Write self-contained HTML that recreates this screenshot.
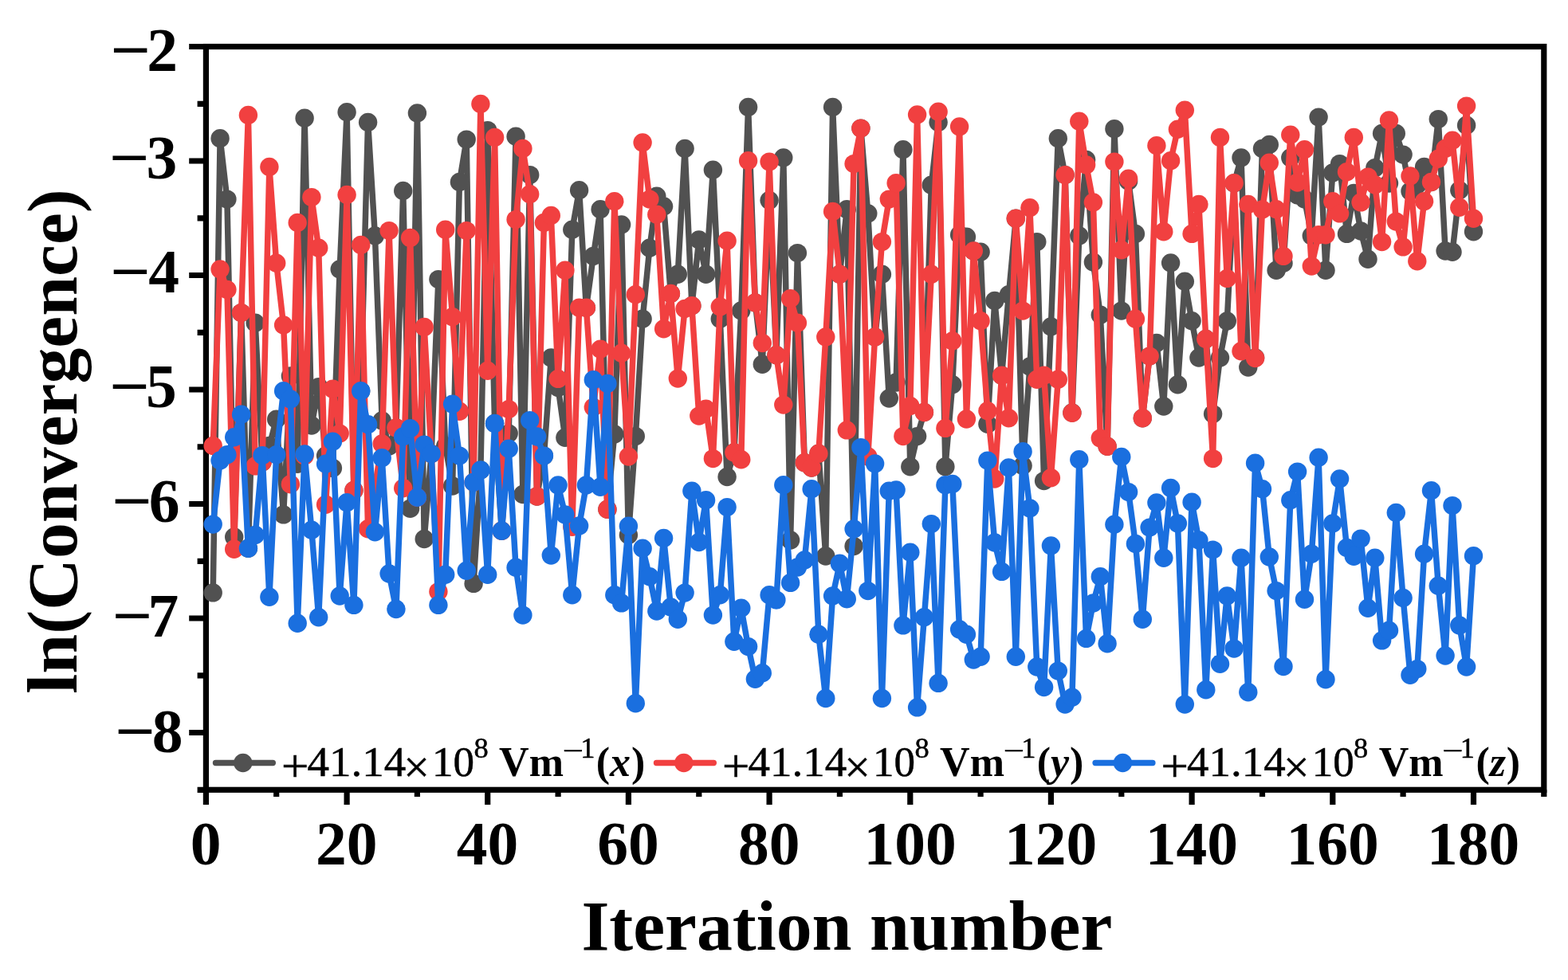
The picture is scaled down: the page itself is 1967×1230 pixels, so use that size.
<!DOCTYPE html>
<html><head><meta charset="utf-8"><title>Convergence</title>
<style>
html,body{margin:0;padding:0;background:#fff;}
body{width:1967px;height:1230px;overflow:hidden;}
svg{display:block;}
text{font-family:"Liberation Serif","DejaVu Serif",serif;fill:#000;}
.tk{font-weight:bold;font-size:77.5px;}
.ti{font-weight:bold;font-size:89.8px;}
.lg{font-size:52px;}
.b{font-weight:bold;}
.i{font-style:italic;}
.sup{font-size:35px;}
</style></head><body>
<svg width="1967" height="1230" viewBox="0 0 1967 1230">
<rect width="1967" height="1230" fill="#fff"/>

<rect x="258.4" y="58.5" width="1678.4" height="932.8" fill="none" stroke="#000" stroke-width="7.2"/>
<path d="M258.4 991.3 V1010.0 M346.7 991.3 V999.9 M435.1 991.3 V1010.0 M523.4 991.3 V999.9 M611.7 991.3 V1010.0 M700.1 991.3 V999.9 M788.4 991.3 V1010.0 M876.8 991.3 V999.9 M965.1 991.3 V1010.0 M1053.4 991.3 V999.9 M1141.8 991.3 V1010.0 M1230.1 991.3 V999.9 M1318.4 991.3 V1010.0 M1406.8 991.3 V999.9 M1495.1 991.3 V1010.0 M1583.5 991.3 V999.9 M1671.8 991.3 V1010.0 M1760.1 991.3 V999.9 M1848.5 991.3 V1010.0 M1936.8 991.3 V999.9 M258.4 58.5 H237.2 M258.4 130.3 H247.6 M258.4 202.0 H237.2 M258.4 273.8 H247.6 M258.4 345.5 H237.2 M258.4 417.3 H247.6 M258.4 489.0 H237.2 M258.4 560.8 H247.6 M258.4 632.5 H237.2 M258.4 704.3 H247.6 M258.4 776.0 H237.2 M258.4 847.8 H247.6 M258.4 919.5 H237.2 M258.4 991.3 H247.6" stroke="#000" stroke-width="7.2" fill="none"/>
<g stroke="#515151" fill="#515151">
<polyline fill="none" stroke-width="7.5" stroke-linejoin="round" stroke-linecap="round" points="267.2,743.9 276.1,173.8 284.9,250.1 293.7,673.9 302.6,392.6 311.4,688.2 320.2,405.3 329.1,580.0 337.9,559.4 346.7,526.3 355.6,645.9 364.4,472.0 373.2,582.3 382.1,148.3 390.9,534.0 399.7,485.6 408.6,572.0 417.4,587.4 426.2,337.9 435.1,140.7 443.9,615.4 452.7,490.7 461.6,153.4 470.4,295.9 479.2,528.0 488.1,560.0 496.9,537.0 505.7,239.4 514.6,638.3 523.4,142.0 532.2,676.5 541.1,569.6 549.9,350.6 558.7,560.0 567.6,610.0 576.4,228.5 585.2,175.1 594.1,732.4 602.9,589.9 611.7,163.6 620.6,531.4 629.4,666.3 638.2,544.1 647.1,171.2 655.9,620.5 664.7,219.6 673.6,623.0 682.4,572.1 691.3,449.0 700.1,486.5 708.9,549.2 717.8,288.3 726.6,238.7 735.4,386.3 744.3,321.4 753.1,262.8 761.9,639.2 770.8,545.0 779.6,281.9 788.4,671.6 797.3,547.6 806.1,400.3 814.9,311.2 823.8,246.3 832.6,259.0 841.4,368.4 850.3,344.3 859.1,186.5 867.9,383.7 876.8,301.0 885.6,344.3 894.4,213.2 903.3,400.3 912.1,598.5 920.9,567.9 929.8,390.0 938.6,134.4 947.4,380.0 956.3,457.3 965.1,251.4 973.9,445.8 982.8,198.0 991.6,678.0 1000.4,317.6 1009.3,580.7 1018.1,587.0 1026.9,569.2 1035.8,698.0 1044.6,134.4 1053.4,344.3 1062.3,262.8 1071.1,685.6 1079.9,161.1 1088.8,267.9 1097.6,422.9 1106.4,344.3 1115.3,500.0 1124.1,480.0 1132.9,187.8 1141.8,585.8 1150.6,547.6 1159.4,517.5 1168.3,232.3 1177.1,153.4 1185.9,585.8 1194.8,482.7 1203.6,294.7 1212.4,297.2 1221.3,315.0 1230.1,316.3 1238.9,532.3 1247.8,377.4 1256.6,471.2 1265.4,369.7 1274.3,274.3 1283.1,584.5 1291.9,460.0 1300.8,303.6 1309.6,603.6 1318.4,410.0 1327.3,173.8 1336.1,219.6 1344.9,518.0 1353.8,295.9 1362.6,200.5 1371.4,329.0 1380.3,395.2 1389.1,560.3 1397.9,161.8 1406.8,390.1 1415.6,227.2 1424.4,293.4 1433.3,524.7 1442.1,447.1 1450.9,430.5 1459.8,510.0 1468.6,330.0 1477.4,482.7 1486.3,353.2 1495.1,402.8 1503.9,449.0 1512.8,425.4 1521.6,519.6 1530.5,449.0 1539.3,403.0 1548.1,230.0 1557.0,198.0 1565.8,461.1 1574.6,449.0 1583.5,186.5 1592.3,181.4 1601.1,339.2 1610.0,330.3 1618.8,198.0 1627.6,245.0 1636.5,250.0 1645.3,295.9 1654.1,147.1 1663.0,339.2 1671.8,217.0 1680.6,205.6 1689.5,293.4 1698.3,242.5 1707.1,290.0 1716.0,325.2 1724.8,210.7 1733.6,167.4 1742.5,230.0 1751.3,167.4 1760.1,194.1 1769.0,240.0 1777.8,232.0 1786.6,209.4 1795.5,228.5 1804.3,149.6 1813.1,315.0 1822.0,316.3 1830.8,238.7 1839.6,157.3 1848.5,290.8"/>
<g stroke="none"><circle cx="267.2" cy="743.9" r="11.7"/><circle cx="276.1" cy="173.8" r="11.7"/><circle cx="284.9" cy="250.1" r="11.7"/><circle cx="293.7" cy="673.9" r="11.7"/><circle cx="302.6" cy="392.6" r="11.7"/><circle cx="311.4" cy="688.2" r="11.7"/><circle cx="320.2" cy="405.3" r="11.7"/><circle cx="329.1" cy="580.0" r="11.7"/><circle cx="337.9" cy="559.4" r="11.7"/><circle cx="346.7" cy="526.3" r="11.7"/><circle cx="355.6" cy="645.9" r="11.7"/><circle cx="364.4" cy="472.0" r="11.7"/><circle cx="373.2" cy="582.3" r="11.7"/><circle cx="382.1" cy="148.3" r="11.7"/><circle cx="390.9" cy="534.0" r="11.7"/><circle cx="399.7" cy="485.6" r="11.7"/><circle cx="408.6" cy="572.0" r="11.7"/><circle cx="417.4" cy="587.4" r="11.7"/><circle cx="426.2" cy="337.9" r="11.7"/><circle cx="435.1" cy="140.7" r="11.7"/><circle cx="443.9" cy="615.4" r="11.7"/><circle cx="452.7" cy="490.7" r="11.7"/><circle cx="461.6" cy="153.4" r="11.7"/><circle cx="470.4" cy="295.9" r="11.7"/><circle cx="479.2" cy="528.0" r="11.7"/><circle cx="488.1" cy="560.0" r="11.7"/><circle cx="496.9" cy="537.0" r="11.7"/><circle cx="505.7" cy="239.4" r="11.7"/><circle cx="514.6" cy="638.3" r="11.7"/><circle cx="523.4" cy="142.0" r="11.7"/><circle cx="532.2" cy="676.5" r="11.7"/><circle cx="541.1" cy="569.6" r="11.7"/><circle cx="549.9" cy="350.6" r="11.7"/><circle cx="558.7" cy="560.0" r="11.7"/><circle cx="567.6" cy="610.0" r="11.7"/><circle cx="576.4" cy="228.5" r="11.7"/><circle cx="585.2" cy="175.1" r="11.7"/><circle cx="594.1" cy="732.4" r="11.7"/><circle cx="602.9" cy="589.9" r="11.7"/><circle cx="611.7" cy="163.6" r="11.7"/><circle cx="620.6" cy="531.4" r="11.7"/><circle cx="629.4" cy="666.3" r="11.7"/><circle cx="638.2" cy="544.1" r="11.7"/><circle cx="647.1" cy="171.2" r="11.7"/><circle cx="655.9" cy="620.5" r="11.7"/><circle cx="664.7" cy="219.6" r="11.7"/><circle cx="673.6" cy="623.0" r="11.7"/><circle cx="682.4" cy="572.1" r="11.7"/><circle cx="691.3" cy="449.0" r="11.7"/><circle cx="700.1" cy="486.5" r="11.7"/><circle cx="708.9" cy="549.2" r="11.7"/><circle cx="717.8" cy="288.3" r="11.7"/><circle cx="726.6" cy="238.7" r="11.7"/><circle cx="735.4" cy="386.3" r="11.7"/><circle cx="744.3" cy="321.4" r="11.7"/><circle cx="753.1" cy="262.8" r="11.7"/><circle cx="761.9" cy="639.2" r="11.7"/><circle cx="770.8" cy="545.0" r="11.7"/><circle cx="779.6" cy="281.9" r="11.7"/><circle cx="788.4" cy="671.6" r="11.7"/><circle cx="797.3" cy="547.6" r="11.7"/><circle cx="806.1" cy="400.3" r="11.7"/><circle cx="814.9" cy="311.2" r="11.7"/><circle cx="823.8" cy="246.3" r="11.7"/><circle cx="832.6" cy="259.0" r="11.7"/><circle cx="841.4" cy="368.4" r="11.7"/><circle cx="850.3" cy="344.3" r="11.7"/><circle cx="859.1" cy="186.5" r="11.7"/><circle cx="867.9" cy="383.7" r="11.7"/><circle cx="876.8" cy="301.0" r="11.7"/><circle cx="885.6" cy="344.3" r="11.7"/><circle cx="894.4" cy="213.2" r="11.7"/><circle cx="903.3" cy="400.3" r="11.7"/><circle cx="912.1" cy="598.5" r="11.7"/><circle cx="920.9" cy="567.9" r="11.7"/><circle cx="929.8" cy="390.0" r="11.7"/><circle cx="938.6" cy="134.4" r="11.7"/><circle cx="947.4" cy="380.0" r="11.7"/><circle cx="956.3" cy="457.3" r="11.7"/><circle cx="965.1" cy="251.4" r="11.7"/><circle cx="973.9" cy="445.8" r="11.7"/><circle cx="982.8" cy="198.0" r="11.7"/><circle cx="991.6" cy="678.0" r="11.7"/><circle cx="1000.4" cy="317.6" r="11.7"/><circle cx="1009.3" cy="580.7" r="11.7"/><circle cx="1018.1" cy="587.0" r="11.7"/><circle cx="1026.9" cy="569.2" r="11.7"/><circle cx="1035.8" cy="698.0" r="11.7"/><circle cx="1044.6" cy="134.4" r="11.7"/><circle cx="1053.4" cy="344.3" r="11.7"/><circle cx="1062.3" cy="262.8" r="11.7"/><circle cx="1071.1" cy="685.6" r="11.7"/><circle cx="1079.9" cy="161.1" r="11.7"/><circle cx="1088.8" cy="267.9" r="11.7"/><circle cx="1097.6" cy="422.9" r="11.7"/><circle cx="1106.4" cy="344.3" r="11.7"/><circle cx="1115.3" cy="500.0" r="11.7"/><circle cx="1124.1" cy="480.0" r="11.7"/><circle cx="1132.9" cy="187.8" r="11.7"/><circle cx="1141.8" cy="585.8" r="11.7"/><circle cx="1150.6" cy="547.6" r="11.7"/><circle cx="1159.4" cy="517.5" r="11.7"/><circle cx="1168.3" cy="232.3" r="11.7"/><circle cx="1177.1" cy="153.4" r="11.7"/><circle cx="1185.9" cy="585.8" r="11.7"/><circle cx="1194.8" cy="482.7" r="11.7"/><circle cx="1203.6" cy="294.7" r="11.7"/><circle cx="1212.4" cy="297.2" r="11.7"/><circle cx="1221.3" cy="315.0" r="11.7"/><circle cx="1230.1" cy="316.3" r="11.7"/><circle cx="1238.9" cy="532.3" r="11.7"/><circle cx="1247.8" cy="377.4" r="11.7"/><circle cx="1256.6" cy="471.2" r="11.7"/><circle cx="1265.4" cy="369.7" r="11.7"/><circle cx="1274.3" cy="274.3" r="11.7"/><circle cx="1283.1" cy="584.5" r="11.7"/><circle cx="1291.9" cy="460.0" r="11.7"/><circle cx="1300.8" cy="303.6" r="11.7"/><circle cx="1309.6" cy="603.6" r="11.7"/><circle cx="1318.4" cy="410.0" r="11.7"/><circle cx="1327.3" cy="173.8" r="11.7"/><circle cx="1336.1" cy="219.6" r="11.7"/><circle cx="1344.9" cy="518.0" r="11.7"/><circle cx="1353.8" cy="295.9" r="11.7"/><circle cx="1362.6" cy="200.5" r="11.7"/><circle cx="1371.4" cy="329.0" r="11.7"/><circle cx="1380.3" cy="395.2" r="11.7"/><circle cx="1389.1" cy="560.3" r="11.7"/><circle cx="1397.9" cy="161.8" r="11.7"/><circle cx="1406.8" cy="390.1" r="11.7"/><circle cx="1415.6" cy="227.2" r="11.7"/><circle cx="1424.4" cy="293.4" r="11.7"/><circle cx="1433.3" cy="524.7" r="11.7"/><circle cx="1442.1" cy="447.1" r="11.7"/><circle cx="1450.9" cy="430.5" r="11.7"/><circle cx="1459.8" cy="510.0" r="11.7"/><circle cx="1468.6" cy="330.0" r="11.7"/><circle cx="1477.4" cy="482.7" r="11.7"/><circle cx="1486.3" cy="353.2" r="11.7"/><circle cx="1495.1" cy="402.8" r="11.7"/><circle cx="1503.9" cy="449.0" r="11.7"/><circle cx="1512.8" cy="425.4" r="11.7"/><circle cx="1521.6" cy="519.6" r="11.7"/><circle cx="1530.5" cy="449.0" r="11.7"/><circle cx="1539.3" cy="403.0" r="11.7"/><circle cx="1548.1" cy="230.0" r="11.7"/><circle cx="1557.0" cy="198.0" r="11.7"/><circle cx="1565.8" cy="461.1" r="11.7"/><circle cx="1574.6" cy="449.0" r="11.7"/><circle cx="1583.5" cy="186.5" r="11.7"/><circle cx="1592.3" cy="181.4" r="11.7"/><circle cx="1601.1" cy="339.2" r="11.7"/><circle cx="1610.0" cy="330.3" r="11.7"/><circle cx="1618.8" cy="198.0" r="11.7"/><circle cx="1627.6" cy="245.0" r="11.7"/><circle cx="1636.5" cy="250.0" r="11.7"/><circle cx="1645.3" cy="295.9" r="11.7"/><circle cx="1654.1" cy="147.1" r="11.7"/><circle cx="1663.0" cy="339.2" r="11.7"/><circle cx="1671.8" cy="217.0" r="11.7"/><circle cx="1680.6" cy="205.6" r="11.7"/><circle cx="1689.5" cy="293.4" r="11.7"/><circle cx="1698.3" cy="242.5" r="11.7"/><circle cx="1707.1" cy="290.0" r="11.7"/><circle cx="1716.0" cy="325.2" r="11.7"/><circle cx="1724.8" cy="210.7" r="11.7"/><circle cx="1733.6" cy="167.4" r="11.7"/><circle cx="1742.5" cy="230.0" r="11.7"/><circle cx="1751.3" cy="167.4" r="11.7"/><circle cx="1760.1" cy="194.1" r="11.7"/><circle cx="1769.0" cy="240.0" r="11.7"/><circle cx="1777.8" cy="232.0" r="11.7"/><circle cx="1786.6" cy="209.4" r="11.7"/><circle cx="1795.5" cy="228.5" r="11.7"/><circle cx="1804.3" cy="149.6" r="11.7"/><circle cx="1813.1" cy="315.0" r="11.7"/><circle cx="1822.0" cy="316.3" r="11.7"/><circle cx="1830.8" cy="238.7" r="11.7"/><circle cx="1839.6" cy="157.3" r="11.7"/><circle cx="1848.5" cy="290.8" r="11.7"/></g>
</g>
<g stroke="#F14040" fill="#F14040">
<polyline fill="none" stroke-width="7.5" stroke-linejoin="round" stroke-linecap="round" points="267.2,559.4 276.1,337.9 284.9,363.4 293.7,689.2 302.6,392.6 311.4,144.5 320.2,584.9 329.1,580.0 337.9,209.4 346.7,330.3 355.6,407.9 364.4,607.8 373.2,279.4 382.1,572.0 390.9,247.6 399.7,311.2 408.6,633.2 417.4,488.2 426.2,544.1 435.1,244.5 443.9,615.4 452.7,307.4 461.6,663.7 470.4,610.0 479.2,556.9 488.1,289.6 496.9,537.0 505.7,612.8 514.6,298.5 523.4,624.3 532.2,410.4 541.1,569.6 549.9,742.6 558.7,288.3 567.6,397.7 576.4,516.2 585.2,289.6 594.1,605.2 602.9,130.5 611.7,465.3 620.6,172.5 629.4,666.3 638.2,513.6 647.1,275.6 655.9,186.5 664.7,243.8 673.6,623.0 682.4,279.4 691.3,270.5 700.1,475.4 708.9,339.2 717.8,661.2 726.6,386.3 735.4,386.3 744.3,511.1 753.1,438.2 761.9,639.2 770.8,252.7 779.6,443.3 788.4,573.0 797.3,369.7 806.1,178.9 814.9,250.1 823.8,269.2 832.6,412.7 841.4,368.4 850.3,475.1 859.1,387.5 867.9,383.7 876.8,522.1 885.6,513.2 894.4,575.6 903.3,385.0 912.1,302.3 920.9,567.9 929.8,576.8 938.6,201.8 947.4,380.0 956.3,430.5 965.1,203.1 973.9,445.8 982.8,508.1 991.6,374.8 1000.4,405.3 1009.3,580.7 1018.1,587.0 1026.9,569.2 1035.8,422.9 1044.6,265.4 1053.4,344.3 1062.3,539.9 1071.1,205.6 1079.9,161.1 1088.8,573.0 1097.6,422.9 1106.4,303.6 1115.3,250.1 1124.1,229.8 1132.9,547.6 1141.8,509.5 1150.6,144.0 1159.4,517.5 1168.3,344.3 1177.1,140.2 1185.9,537.4 1194.8,428.0 1203.6,159.0 1212.4,526.0 1221.3,315.0 1230.1,402.8 1238.9,515.8 1247.8,601.0 1256.6,471.2 1265.4,524.7 1274.3,274.3 1283.1,390.1 1291.9,260.8 1300.8,476.3 1309.6,471.2 1318.4,599.7 1327.3,476.3 1336.1,219.6 1344.9,518.3 1353.8,152.2 1362.6,206.9 1371.4,253.9 1380.3,550.1 1389.1,560.3 1397.9,203.1 1406.8,313.7 1415.6,224.2 1424.4,400.3 1433.3,524.7 1442.1,447.1 1450.9,182.7 1459.8,290.8 1468.6,201.8 1477.4,162.3 1486.3,138.2 1495.1,293.4 1503.9,256.5 1512.8,425.4 1521.6,575.6 1530.5,172.5 1539.3,349.4 1548.1,229.8 1557.0,440.7 1565.8,256.5 1574.6,449.6 1583.5,263.0 1592.3,204.3 1601.1,262.8 1610.0,321.4 1618.8,169.2 1627.6,229.0 1636.5,187.8 1645.3,334.1 1654.1,294.7 1663.0,294.7 1671.8,252.7 1680.6,267.9 1689.5,215.8 1698.3,172.5 1707.1,253.9 1716.0,222.1 1724.8,232.0 1733.6,303.6 1742.5,150.9 1751.3,278.1 1760.1,309.9 1769.0,220.9 1777.8,327.7 1786.6,252.7 1795.5,228.5 1804.3,199.2 1813.1,186.5 1822.0,176.3 1830.8,260.3 1839.6,133.1 1848.5,274.3"/>
<g stroke="none"><circle cx="267.2" cy="559.4" r="11.7"/><circle cx="276.1" cy="337.9" r="11.7"/><circle cx="284.9" cy="363.4" r="11.7"/><circle cx="293.7" cy="689.2" r="11.7"/><circle cx="302.6" cy="392.6" r="11.7"/><circle cx="311.4" cy="144.5" r="11.7"/><circle cx="320.2" cy="584.9" r="11.7"/><circle cx="329.1" cy="580.0" r="11.7"/><circle cx="337.9" cy="209.4" r="11.7"/><circle cx="346.7" cy="330.3" r="11.7"/><circle cx="355.6" cy="407.9" r="11.7"/><circle cx="364.4" cy="607.8" r="11.7"/><circle cx="373.2" cy="279.4" r="11.7"/><circle cx="382.1" cy="572.0" r="11.7"/><circle cx="390.9" cy="247.6" r="11.7"/><circle cx="399.7" cy="311.2" r="11.7"/><circle cx="408.6" cy="633.2" r="11.7"/><circle cx="417.4" cy="488.2" r="11.7"/><circle cx="426.2" cy="544.1" r="11.7"/><circle cx="435.1" cy="244.5" r="11.7"/><circle cx="443.9" cy="615.4" r="11.7"/><circle cx="452.7" cy="307.4" r="11.7"/><circle cx="461.6" cy="663.7" r="11.7"/><circle cx="470.4" cy="610.0" r="11.7"/><circle cx="479.2" cy="556.9" r="11.7"/><circle cx="488.1" cy="289.6" r="11.7"/><circle cx="496.9" cy="537.0" r="11.7"/><circle cx="505.7" cy="612.8" r="11.7"/><circle cx="514.6" cy="298.5" r="11.7"/><circle cx="523.4" cy="624.3" r="11.7"/><circle cx="532.2" cy="410.4" r="11.7"/><circle cx="541.1" cy="569.6" r="11.7"/><circle cx="549.9" cy="742.6" r="11.7"/><circle cx="558.7" cy="288.3" r="11.7"/><circle cx="567.6" cy="397.7" r="11.7"/><circle cx="576.4" cy="516.2" r="11.7"/><circle cx="585.2" cy="289.6" r="11.7"/><circle cx="594.1" cy="605.2" r="11.7"/><circle cx="602.9" cy="130.5" r="11.7"/><circle cx="611.7" cy="465.3" r="11.7"/><circle cx="620.6" cy="172.5" r="11.7"/><circle cx="629.4" cy="666.3" r="11.7"/><circle cx="638.2" cy="513.6" r="11.7"/><circle cx="647.1" cy="275.6" r="11.7"/><circle cx="655.9" cy="186.5" r="11.7"/><circle cx="664.7" cy="243.8" r="11.7"/><circle cx="673.6" cy="623.0" r="11.7"/><circle cx="682.4" cy="279.4" r="11.7"/><circle cx="691.3" cy="270.5" r="11.7"/><circle cx="700.1" cy="475.4" r="11.7"/><circle cx="708.9" cy="339.2" r="11.7"/><circle cx="717.8" cy="661.2" r="11.7"/><circle cx="726.6" cy="386.3" r="11.7"/><circle cx="735.4" cy="386.3" r="11.7"/><circle cx="744.3" cy="511.1" r="11.7"/><circle cx="753.1" cy="438.2" r="11.7"/><circle cx="761.9" cy="639.2" r="11.7"/><circle cx="770.8" cy="252.7" r="11.7"/><circle cx="779.6" cy="443.3" r="11.7"/><circle cx="788.4" cy="573.0" r="11.7"/><circle cx="797.3" cy="369.7" r="11.7"/><circle cx="806.1" cy="178.9" r="11.7"/><circle cx="814.9" cy="250.1" r="11.7"/><circle cx="823.8" cy="269.2" r="11.7"/><circle cx="832.6" cy="412.7" r="11.7"/><circle cx="841.4" cy="368.4" r="11.7"/><circle cx="850.3" cy="475.1" r="11.7"/><circle cx="859.1" cy="387.5" r="11.7"/><circle cx="867.9" cy="383.7" r="11.7"/><circle cx="876.8" cy="522.1" r="11.7"/><circle cx="885.6" cy="513.2" r="11.7"/><circle cx="894.4" cy="575.6" r="11.7"/><circle cx="903.3" cy="385.0" r="11.7"/><circle cx="912.1" cy="302.3" r="11.7"/><circle cx="920.9" cy="567.9" r="11.7"/><circle cx="929.8" cy="576.8" r="11.7"/><circle cx="938.6" cy="201.8" r="11.7"/><circle cx="947.4" cy="380.0" r="11.7"/><circle cx="956.3" cy="430.5" r="11.7"/><circle cx="965.1" cy="203.1" r="11.7"/><circle cx="973.9" cy="445.8" r="11.7"/><circle cx="982.8" cy="508.1" r="11.7"/><circle cx="991.6" cy="374.8" r="11.7"/><circle cx="1000.4" cy="405.3" r="11.7"/><circle cx="1009.3" cy="580.7" r="11.7"/><circle cx="1018.1" cy="587.0" r="11.7"/><circle cx="1026.9" cy="569.2" r="11.7"/><circle cx="1035.8" cy="422.9" r="11.7"/><circle cx="1044.6" cy="265.4" r="11.7"/><circle cx="1053.4" cy="344.3" r="11.7"/><circle cx="1062.3" cy="539.9" r="11.7"/><circle cx="1071.1" cy="205.6" r="11.7"/><circle cx="1079.9" cy="161.1" r="11.7"/><circle cx="1088.8" cy="573.0" r="11.7"/><circle cx="1097.6" cy="422.9" r="11.7"/><circle cx="1106.4" cy="303.6" r="11.7"/><circle cx="1115.3" cy="250.1" r="11.7"/><circle cx="1124.1" cy="229.8" r="11.7"/><circle cx="1132.9" cy="547.6" r="11.7"/><circle cx="1141.8" cy="509.5" r="11.7"/><circle cx="1150.6" cy="144.0" r="11.7"/><circle cx="1159.4" cy="517.5" r="11.7"/><circle cx="1168.3" cy="344.3" r="11.7"/><circle cx="1177.1" cy="140.2" r="11.7"/><circle cx="1185.9" cy="537.4" r="11.7"/><circle cx="1194.8" cy="428.0" r="11.7"/><circle cx="1203.6" cy="159.0" r="11.7"/><circle cx="1212.4" cy="526.0" r="11.7"/><circle cx="1221.3" cy="315.0" r="11.7"/><circle cx="1230.1" cy="402.8" r="11.7"/><circle cx="1238.9" cy="515.8" r="11.7"/><circle cx="1247.8" cy="601.0" r="11.7"/><circle cx="1256.6" cy="471.2" r="11.7"/><circle cx="1265.4" cy="524.7" r="11.7"/><circle cx="1274.3" cy="274.3" r="11.7"/><circle cx="1283.1" cy="390.1" r="11.7"/><circle cx="1291.9" cy="260.8" r="11.7"/><circle cx="1300.8" cy="476.3" r="11.7"/><circle cx="1309.6" cy="471.2" r="11.7"/><circle cx="1318.4" cy="599.7" r="11.7"/><circle cx="1327.3" cy="476.3" r="11.7"/><circle cx="1336.1" cy="219.6" r="11.7"/><circle cx="1344.9" cy="518.3" r="11.7"/><circle cx="1353.8" cy="152.2" r="11.7"/><circle cx="1362.6" cy="206.9" r="11.7"/><circle cx="1371.4" cy="253.9" r="11.7"/><circle cx="1380.3" cy="550.1" r="11.7"/><circle cx="1389.1" cy="560.3" r="11.7"/><circle cx="1397.9" cy="203.1" r="11.7"/><circle cx="1406.8" cy="313.7" r="11.7"/><circle cx="1415.6" cy="224.2" r="11.7"/><circle cx="1424.4" cy="400.3" r="11.7"/><circle cx="1433.3" cy="524.7" r="11.7"/><circle cx="1442.1" cy="447.1" r="11.7"/><circle cx="1450.9" cy="182.7" r="11.7"/><circle cx="1459.8" cy="290.8" r="11.7"/><circle cx="1468.6" cy="201.8" r="11.7"/><circle cx="1477.4" cy="162.3" r="11.7"/><circle cx="1486.3" cy="138.2" r="11.7"/><circle cx="1495.1" cy="293.4" r="11.7"/><circle cx="1503.9" cy="256.5" r="11.7"/><circle cx="1512.8" cy="425.4" r="11.7"/><circle cx="1521.6" cy="575.6" r="11.7"/><circle cx="1530.5" cy="172.5" r="11.7"/><circle cx="1539.3" cy="349.4" r="11.7"/><circle cx="1548.1" cy="229.8" r="11.7"/><circle cx="1557.0" cy="440.7" r="11.7"/><circle cx="1565.8" cy="256.5" r="11.7"/><circle cx="1574.6" cy="449.6" r="11.7"/><circle cx="1583.5" cy="263.0" r="11.7"/><circle cx="1592.3" cy="204.3" r="11.7"/><circle cx="1601.1" cy="262.8" r="11.7"/><circle cx="1610.0" cy="321.4" r="11.7"/><circle cx="1618.8" cy="169.2" r="11.7"/><circle cx="1627.6" cy="229.0" r="11.7"/><circle cx="1636.5" cy="187.8" r="11.7"/><circle cx="1645.3" cy="334.1" r="11.7"/><circle cx="1654.1" cy="294.7" r="11.7"/><circle cx="1663.0" cy="294.7" r="11.7"/><circle cx="1671.8" cy="252.7" r="11.7"/><circle cx="1680.6" cy="267.9" r="11.7"/><circle cx="1689.5" cy="215.8" r="11.7"/><circle cx="1698.3" cy="172.5" r="11.7"/><circle cx="1707.1" cy="253.9" r="11.7"/><circle cx="1716.0" cy="222.1" r="11.7"/><circle cx="1724.8" cy="232.0" r="11.7"/><circle cx="1733.6" cy="303.6" r="11.7"/><circle cx="1742.5" cy="150.9" r="11.7"/><circle cx="1751.3" cy="278.1" r="11.7"/><circle cx="1760.1" cy="309.9" r="11.7"/><circle cx="1769.0" cy="220.9" r="11.7"/><circle cx="1777.8" cy="327.7" r="11.7"/><circle cx="1786.6" cy="252.7" r="11.7"/><circle cx="1795.5" cy="228.5" r="11.7"/><circle cx="1804.3" cy="199.2" r="11.7"/><circle cx="1813.1" cy="186.5" r="11.7"/><circle cx="1822.0" cy="176.3" r="11.7"/><circle cx="1830.8" cy="260.3" r="11.7"/><circle cx="1839.6" cy="133.1" r="11.7"/><circle cx="1848.5" cy="274.3" r="11.7"/></g>
</g>
<g stroke="#1A6FDF" fill="#1A6FDF">
<polyline fill="none" stroke-width="7.5" stroke-linejoin="round" stroke-linecap="round" points="267.2,658.1 276.1,578.0 284.9,570.8 293.7,548.8 302.6,520.3 311.4,688.2 320.2,671.5 329.1,571.6 337.9,749.2 346.7,570.8 355.6,490.7 364.4,500.9 373.2,782.3 382.1,570.0 390.9,665.3 399.7,774.7 408.6,582.3 417.4,554.3 426.2,748.0 435.1,630.7 443.9,759.4 452.7,490.7 461.6,532.7 470.4,667.8 479.2,574.7 488.1,720.0 496.9,764.5 505.7,548.0 514.6,537.8 523.4,624.3 532.2,558.1 541.1,569.6 549.9,759.4 558.7,721.2 567.6,507.3 576.4,572.1 585.2,716.2 594.1,605.2 602.9,589.9 611.7,721.2 620.6,531.4 629.4,666.3 638.2,563.2 647.1,712.3 655.9,772.1 664.7,527.6 673.6,548.0 682.4,572.1 691.3,697.1 700.1,609.0 708.9,645.9 717.8,746.7 726.6,659.9 735.4,609.0 744.3,476.7 753.1,611.2 761.9,481.4 770.8,746.7 779.6,756.9 788.4,660.2 797.3,882.8 806.1,688.2 814.9,723.8 823.8,767.0 832.6,675.4 841.4,762.0 850.3,777.2 859.1,744.1 867.9,616.3 876.8,680.5 885.6,627.7 894.4,772.1 903.3,746.7 912.1,636.6 920.9,805.2 929.8,763.2 938.6,811.6 947.4,852.3 956.3,844.7 965.1,746.7 973.9,753.1 982.8,608.7 991.6,731.4 1000.4,712.0 1009.3,703.0 1018.1,613.7 1026.9,796.3 1035.8,876.5 1044.6,748.0 1053.4,707.3 1062.3,751.8 1071.1,664.0 1079.9,561.6 1088.8,741.6 1097.6,581.9 1106.4,876.5 1115.3,616.3 1124.1,615.0 1132.9,784.9 1141.8,693.3 1150.6,887.9 1159.4,774.7 1168.3,657.6 1177.1,857.4 1185.9,608.7 1194.8,607.4 1203.6,789.9 1212.4,796.3 1221.3,828.1 1230.1,824.3 1238.9,578.1 1247.8,681.0 1256.6,717.4 1265.4,587.0 1274.3,824.3 1283.1,566.7 1291.9,637.9 1300.8,837.0 1309.6,862.5 1318.4,685.0 1327.3,842.1 1336.1,884.1 1344.9,875.2 1353.8,576.8 1362.6,801.4 1371.4,756.9 1380.3,723.8 1389.1,807.8 1397.9,658.3 1406.8,573.5 1415.6,617.6 1424.4,682.4 1433.3,777.2 1442.1,662.1 1450.9,631.0 1459.8,700.3 1468.6,612.5 1477.4,657.0 1486.3,884.1 1495.1,630.3 1503.9,678.0 1512.8,865.8 1521.6,690.1 1530.5,833.2 1539.3,748.0 1548.1,814.1 1557.0,700.3 1565.8,868.8 1574.6,581.2 1583.5,613.7 1592.3,699.0 1601.1,741.6 1610.0,836.5 1618.8,627.7 1627.6,592.1 1636.5,752.3 1645.3,695.2 1654.1,574.3 1663.0,852.8 1671.8,657.0 1680.6,601.0 1689.5,687.5 1698.3,698.3 1707.1,676.1 1716.0,763.2 1724.8,700.3 1733.6,803.9 1742.5,791.2 1751.3,643.5 1760.1,750.5 1769.0,847.2 1777.8,839.6 1786.6,695.2 1795.5,615.8 1804.3,735.2 1813.1,823.0 1822.0,634.6 1830.8,784.9 1839.6,837.0 1848.5,697.7"/>
<g stroke="none"><circle cx="267.2" cy="658.1" r="11.7"/><circle cx="276.1" cy="578.0" r="11.7"/><circle cx="284.9" cy="570.8" r="11.7"/><circle cx="293.7" cy="548.8" r="11.7"/><circle cx="302.6" cy="520.3" r="11.7"/><circle cx="311.4" cy="688.2" r="11.7"/><circle cx="320.2" cy="671.5" r="11.7"/><circle cx="329.1" cy="571.6" r="11.7"/><circle cx="337.9" cy="749.2" r="11.7"/><circle cx="346.7" cy="570.8" r="11.7"/><circle cx="355.6" cy="490.7" r="11.7"/><circle cx="364.4" cy="500.9" r="11.7"/><circle cx="373.2" cy="782.3" r="11.7"/><circle cx="382.1" cy="570.0" r="11.7"/><circle cx="390.9" cy="665.3" r="11.7"/><circle cx="399.7" cy="774.7" r="11.7"/><circle cx="408.6" cy="582.3" r="11.7"/><circle cx="417.4" cy="554.3" r="11.7"/><circle cx="426.2" cy="748.0" r="11.7"/><circle cx="435.1" cy="630.7" r="11.7"/><circle cx="443.9" cy="759.4" r="11.7"/><circle cx="452.7" cy="490.7" r="11.7"/><circle cx="461.6" cy="532.7" r="11.7"/><circle cx="470.4" cy="667.8" r="11.7"/><circle cx="479.2" cy="574.7" r="11.7"/><circle cx="488.1" cy="720.0" r="11.7"/><circle cx="496.9" cy="764.5" r="11.7"/><circle cx="505.7" cy="548.0" r="11.7"/><circle cx="514.6" cy="537.8" r="11.7"/><circle cx="523.4" cy="624.3" r="11.7"/><circle cx="532.2" cy="558.1" r="11.7"/><circle cx="541.1" cy="569.6" r="11.7"/><circle cx="549.9" cy="759.4" r="11.7"/><circle cx="558.7" cy="721.2" r="11.7"/><circle cx="567.6" cy="507.3" r="11.7"/><circle cx="576.4" cy="572.1" r="11.7"/><circle cx="585.2" cy="716.2" r="11.7"/><circle cx="594.1" cy="605.2" r="11.7"/><circle cx="602.9" cy="589.9" r="11.7"/><circle cx="611.7" cy="721.2" r="11.7"/><circle cx="620.6" cy="531.4" r="11.7"/><circle cx="629.4" cy="666.3" r="11.7"/><circle cx="638.2" cy="563.2" r="11.7"/><circle cx="647.1" cy="712.3" r="11.7"/><circle cx="655.9" cy="772.1" r="11.7"/><circle cx="664.7" cy="527.6" r="11.7"/><circle cx="673.6" cy="548.0" r="11.7"/><circle cx="682.4" cy="572.1" r="11.7"/><circle cx="691.3" cy="697.1" r="11.7"/><circle cx="700.1" cy="609.0" r="11.7"/><circle cx="708.9" cy="645.9" r="11.7"/><circle cx="717.8" cy="746.7" r="11.7"/><circle cx="726.6" cy="659.9" r="11.7"/><circle cx="735.4" cy="609.0" r="11.7"/><circle cx="744.3" cy="476.7" r="11.7"/><circle cx="753.1" cy="611.2" r="11.7"/><circle cx="761.9" cy="481.4" r="11.7"/><circle cx="770.8" cy="746.7" r="11.7"/><circle cx="779.6" cy="756.9" r="11.7"/><circle cx="788.4" cy="660.2" r="11.7"/><circle cx="797.3" cy="882.8" r="11.7"/><circle cx="806.1" cy="688.2" r="11.7"/><circle cx="814.9" cy="723.8" r="11.7"/><circle cx="823.8" cy="767.0" r="11.7"/><circle cx="832.6" cy="675.4" r="11.7"/><circle cx="841.4" cy="762.0" r="11.7"/><circle cx="850.3" cy="777.2" r="11.7"/><circle cx="859.1" cy="744.1" r="11.7"/><circle cx="867.9" cy="616.3" r="11.7"/><circle cx="876.8" cy="680.5" r="11.7"/><circle cx="885.6" cy="627.7" r="11.7"/><circle cx="894.4" cy="772.1" r="11.7"/><circle cx="903.3" cy="746.7" r="11.7"/><circle cx="912.1" cy="636.6" r="11.7"/><circle cx="920.9" cy="805.2" r="11.7"/><circle cx="929.8" cy="763.2" r="11.7"/><circle cx="938.6" cy="811.6" r="11.7"/><circle cx="947.4" cy="852.3" r="11.7"/><circle cx="956.3" cy="844.7" r="11.7"/><circle cx="965.1" cy="746.7" r="11.7"/><circle cx="973.9" cy="753.1" r="11.7"/><circle cx="982.8" cy="608.7" r="11.7"/><circle cx="991.6" cy="731.4" r="11.7"/><circle cx="1000.4" cy="712.0" r="11.7"/><circle cx="1009.3" cy="703.0" r="11.7"/><circle cx="1018.1" cy="613.7" r="11.7"/><circle cx="1026.9" cy="796.3" r="11.7"/><circle cx="1035.8" cy="876.5" r="11.7"/><circle cx="1044.6" cy="748.0" r="11.7"/><circle cx="1053.4" cy="707.3" r="11.7"/><circle cx="1062.3" cy="751.8" r="11.7"/><circle cx="1071.1" cy="664.0" r="11.7"/><circle cx="1079.9" cy="561.6" r="11.7"/><circle cx="1088.8" cy="741.6" r="11.7"/><circle cx="1097.6" cy="581.9" r="11.7"/><circle cx="1106.4" cy="876.5" r="11.7"/><circle cx="1115.3" cy="616.3" r="11.7"/><circle cx="1124.1" cy="615.0" r="11.7"/><circle cx="1132.9" cy="784.9" r="11.7"/><circle cx="1141.8" cy="693.3" r="11.7"/><circle cx="1150.6" cy="887.9" r="11.7"/><circle cx="1159.4" cy="774.7" r="11.7"/><circle cx="1168.3" cy="657.6" r="11.7"/><circle cx="1177.1" cy="857.4" r="11.7"/><circle cx="1185.9" cy="608.7" r="11.7"/><circle cx="1194.8" cy="607.4" r="11.7"/><circle cx="1203.6" cy="789.9" r="11.7"/><circle cx="1212.4" cy="796.3" r="11.7"/><circle cx="1221.3" cy="828.1" r="11.7"/><circle cx="1230.1" cy="824.3" r="11.7"/><circle cx="1238.9" cy="578.1" r="11.7"/><circle cx="1247.8" cy="681.0" r="11.7"/><circle cx="1256.6" cy="717.4" r="11.7"/><circle cx="1265.4" cy="587.0" r="11.7"/><circle cx="1274.3" cy="824.3" r="11.7"/><circle cx="1283.1" cy="566.7" r="11.7"/><circle cx="1291.9" cy="637.9" r="11.7"/><circle cx="1300.8" cy="837.0" r="11.7"/><circle cx="1309.6" cy="862.5" r="11.7"/><circle cx="1318.4" cy="685.0" r="11.7"/><circle cx="1327.3" cy="842.1" r="11.7"/><circle cx="1336.1" cy="884.1" r="11.7"/><circle cx="1344.9" cy="875.2" r="11.7"/><circle cx="1353.8" cy="576.8" r="11.7"/><circle cx="1362.6" cy="801.4" r="11.7"/><circle cx="1371.4" cy="756.9" r="11.7"/><circle cx="1380.3" cy="723.8" r="11.7"/><circle cx="1389.1" cy="807.8" r="11.7"/><circle cx="1397.9" cy="658.3" r="11.7"/><circle cx="1406.8" cy="573.5" r="11.7"/><circle cx="1415.6" cy="617.6" r="11.7"/><circle cx="1424.4" cy="682.4" r="11.7"/><circle cx="1433.3" cy="777.2" r="11.7"/><circle cx="1442.1" cy="662.1" r="11.7"/><circle cx="1450.9" cy="631.0" r="11.7"/><circle cx="1459.8" cy="700.3" r="11.7"/><circle cx="1468.6" cy="612.5" r="11.7"/><circle cx="1477.4" cy="657.0" r="11.7"/><circle cx="1486.3" cy="884.1" r="11.7"/><circle cx="1495.1" cy="630.3" r="11.7"/><circle cx="1503.9" cy="678.0" r="11.7"/><circle cx="1512.8" cy="865.8" r="11.7"/><circle cx="1521.6" cy="690.1" r="11.7"/><circle cx="1530.5" cy="833.2" r="11.7"/><circle cx="1539.3" cy="748.0" r="11.7"/><circle cx="1548.1" cy="814.1" r="11.7"/><circle cx="1557.0" cy="700.3" r="11.7"/><circle cx="1565.8" cy="868.8" r="11.7"/><circle cx="1574.6" cy="581.2" r="11.7"/><circle cx="1583.5" cy="613.7" r="11.7"/><circle cx="1592.3" cy="699.0" r="11.7"/><circle cx="1601.1" cy="741.6" r="11.7"/><circle cx="1610.0" cy="836.5" r="11.7"/><circle cx="1618.8" cy="627.7" r="11.7"/><circle cx="1627.6" cy="592.1" r="11.7"/><circle cx="1636.5" cy="752.3" r="11.7"/><circle cx="1645.3" cy="695.2" r="11.7"/><circle cx="1654.1" cy="574.3" r="11.7"/><circle cx="1663.0" cy="852.8" r="11.7"/><circle cx="1671.8" cy="657.0" r="11.7"/><circle cx="1680.6" cy="601.0" r="11.7"/><circle cx="1689.5" cy="687.5" r="11.7"/><circle cx="1698.3" cy="698.3" r="11.7"/><circle cx="1707.1" cy="676.1" r="11.7"/><circle cx="1716.0" cy="763.2" r="11.7"/><circle cx="1724.8" cy="700.3" r="11.7"/><circle cx="1733.6" cy="803.9" r="11.7"/><circle cx="1742.5" cy="791.2" r="11.7"/><circle cx="1751.3" cy="643.5" r="11.7"/><circle cx="1760.1" cy="750.5" r="11.7"/><circle cx="1769.0" cy="847.2" r="11.7"/><circle cx="1777.8" cy="839.6" r="11.7"/><circle cx="1786.6" cy="695.2" r="11.7"/><circle cx="1795.5" cy="615.8" r="11.7"/><circle cx="1804.3" cy="735.2" r="11.7"/><circle cx="1813.1" cy="823.0" r="11.7"/><circle cx="1822.0" cy="634.6" r="11.7"/><circle cx="1830.8" cy="784.9" r="11.7"/><circle cx="1839.6" cy="837.0" r="11.7"/><circle cx="1848.5" cy="697.7" r="11.7"/></g>
</g>
<line x1="270.5" y1="957.5" x2="342.3" y2="957.5" stroke="#515151" stroke-width="7.4" stroke-linecap="round"/>
<circle cx="304.8" cy="957.5" r="11.7" fill="#515151"/>
<text class="lg" transform="translate(353.0,980.5) scale(1.17,1.09)" stroke="#000" stroke-width="0.5">+</text>
<text class="lg" transform="translate(385.5,974.3) scale(1.057,1.0)" stroke="#000" stroke-width="0.5">41.14</text>
<text class="lg" transform="translate(506.3,982.1) scale(1.11,1.11)" stroke="#000" stroke-width="0.5">×</text>
<text class="lg" transform="translate(542.1,974.3) scale(1.02,1.0)" stroke="#000" stroke-width="0.5">10</text>
<text class="lg sup" transform="translate(594.5,951.2) scale(1.04,1.0)" stroke="#000" stroke-width="0.5">8</text>
<text class="lg b" x="626.1" y="974.3">Vm</text>
<text class="lg sup" transform="translate(705.7,954.1) scale(1.33,1.0)" stroke="#000" stroke-width="0.5">−</text>
<text class="lg sup" transform="translate(728.2,951.2) scale(1.04,1.0)" stroke="#000" stroke-width="0.5">1</text>
<text class="lg b" x="747.8" y="974.3">(</text>
<text class="lg b i" x="765.1" y="974.3">x</text>
<text class="lg b" x="792.1" y="974.3">)</text>
<line x1="823.5" y1="957.5" x2="895.3" y2="957.5" stroke="#F14040" stroke-width="7.4" stroke-linecap="round"/>
<circle cx="857.8" cy="957.5" r="11.7" fill="#F14040"/>
<text class="lg" transform="translate(906.0,980.5) scale(1.17,1.09)" stroke="#000" stroke-width="0.5">+</text>
<text class="lg" transform="translate(938.5,974.3) scale(1.057,1.0)" stroke="#000" stroke-width="0.5">41.14</text>
<text class="lg" transform="translate(1059.3,982.1) scale(1.11,1.11)" stroke="#000" stroke-width="0.5">×</text>
<text class="lg" transform="translate(1095.1,974.3) scale(1.02,1.0)" stroke="#000" stroke-width="0.5">10</text>
<text class="lg sup" transform="translate(1147.5,951.2) scale(1.04,1.0)" stroke="#000" stroke-width="0.5">8</text>
<text class="lg b" x="1179.1" y="974.3">Vm</text>
<text class="lg sup" transform="translate(1258.7,954.1) scale(1.33,1.0)" stroke="#000" stroke-width="0.5">−</text>
<text class="lg sup" transform="translate(1281.2,951.2) scale(1.04,1.0)" stroke="#000" stroke-width="0.5">1</text>
<text class="lg b" x="1300.8" y="974.3">(</text>
<text class="lg b i" x="1318.1" y="974.3">y</text>
<text class="lg b" x="1342.1" y="974.3">)</text>
<line x1="1374.1" y1="957.5" x2="1445.9" y2="957.5" stroke="#1A6FDF" stroke-width="7.4" stroke-linecap="round"/>
<circle cx="1408.4" cy="957.5" r="11.7" fill="#1A6FDF"/>
<text class="lg" transform="translate(1456.6,980.5) scale(1.17,1.09)" stroke="#000" stroke-width="0.5">+</text>
<text class="lg" transform="translate(1489.1,974.3) scale(1.057,1.0)" stroke="#000" stroke-width="0.5">41.14</text>
<text class="lg" transform="translate(1609.9,982.1) scale(1.11,1.11)" stroke="#000" stroke-width="0.5">×</text>
<text class="lg" transform="translate(1645.7,974.3) scale(1.02,1.0)" stroke="#000" stroke-width="0.5">10</text>
<text class="lg sup" transform="translate(1698.1,951.2) scale(1.04,1.0)" stroke="#000" stroke-width="0.5">8</text>
<text class="lg b" x="1729.7" y="974.3">Vm</text>
<text class="lg sup" transform="translate(1809.3,954.1) scale(1.33,1.0)" stroke="#000" stroke-width="0.5">−</text>
<text class="lg sup" transform="translate(1831.8,951.2) scale(1.04,1.0)" stroke="#000" stroke-width="0.5">1</text>
<text class="lg b" x="1851.4" y="974.3">(</text>
<text class="lg b i" x="1868.7" y="974.3">z</text>
<text class="lg b" x="1889.7" y="974.3">)</text>
<text class="tk" text-anchor="middle" x="258.1" y="1084.5">0</text>
<text class="tk" text-anchor="middle" x="434.8" y="1084.5">20</text>
<text class="tk" text-anchor="middle" x="611.4" y="1084.5">40</text>
<text class="tk" text-anchor="middle" x="788.1" y="1084.5">60</text>
<text class="tk" text-anchor="middle" x="964.8" y="1084.5">80</text>
<text class="tk" text-anchor="middle" x="1141.5" y="1084.5">100</text>
<text class="tk" text-anchor="middle" x="1318.1" y="1084.5">120</text>
<text class="tk" text-anchor="middle" x="1494.8" y="1084.5">140</text>
<text class="tk" text-anchor="middle" x="1671.5" y="1084.5">160</text>
<text class="tk" text-anchor="middle" x="1848.2" y="1084.5">180</text>
<text class="tk" transform="translate(144.0,944.2) scale(1.15,1)">−</text>
<text class="tk" x="190.7" y="944.2">8</text>
<text class="tk" transform="translate(140.5,799.0) scale(1.15,1)">−</text>
<text class="tk" x="185.6" y="799.0">7</text>
<text class="tk" transform="translate(140.0,655.0) scale(1.15,1)">−</text>
<text class="tk" x="186.7" y="655.0">6</text>
<text class="tk" transform="translate(137.0,511.0) scale(1.15,1)">−</text>
<text class="tk" x="182.9" y="511.0">5</text>
<text class="tk" transform="translate(138.0,367.0) scale(1.15,1)">−</text>
<text class="tk" x="186.2" y="367.0">4</text>
<text class="tk" transform="translate(136.7,223.7) scale(1.15,1)">−</text>
<text class="tk" x="183.4" y="223.7">3</text>
<text class="tk" transform="translate(138.3,89.2) scale(1.15,1)">−</text>
<text class="tk" x="184.2" y="89.2">2</text>
<text class="ti" x="729.4" y="1192.4">Iteration number</text>
<text class="ti" transform="translate(95.6,870.7) rotate(-90)">ln(Convergence)</text>
</svg></body></html>
